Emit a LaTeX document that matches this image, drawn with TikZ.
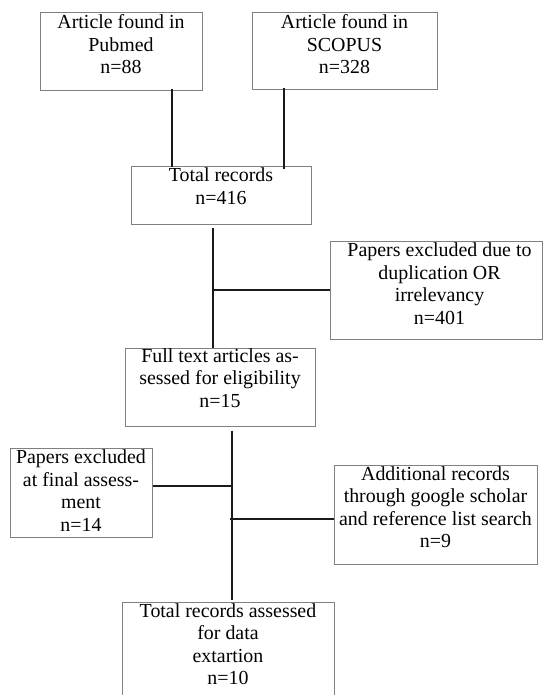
\documentclass[tikz,border=0pt]{standalone}
\usepackage{fontspec}
\setmainfont{Liberation Serif}
\usetikzlibrary{calc}
\definecolor{boxgray}{HTML}{808080}
\definecolor{linecol}{HTML}{1A1A1A}
\begin{document}
\begin{tikzpicture}[x=1pt,y=-1pt,
  box/.style={draw=boxgray, line width=1pt, inner sep=0pt},
  txt/.style={align=center, inner sep=0pt, anchor=north, font=\fontsize{19.9}{22.5}\selectfont},
  conn/.style={draw=linecol, line width=1.8pt}]
\useasboundingbox (0,0) rectangle (544,695);
\fill[white] (0,0) rectangle (544,695);
\clip (0,0) rectangle (544,695);
% boxes
\node[box, minimum width=162, minimum height=78] (b1) at (121,52) {};
\node[box, minimum width=185, minimum height=77] (b2) at (344.5,51.5) {};
\node[box, minimum width=180, minimum height=57] (b3) at (221,195.5) {};
\node[box, minimum width=212, minimum height=98] (b4) at (436.5,290) {};
\node[box, minimum width=190, minimum height=78] (b5) at (220,387) {};
\node[box, minimum width=142, minimum height=89] (b6) at (81,492.5) {};
\node[box, minimum width=203, minimum height=99] (b7) at (435.5,514.5) {};
\node[box, minimum width=212, minimum height=118] (b8) at (228,661) {};
% texts
\node[txt] (t1) at ($(b1.north)+(0,2)$) {\rule{0pt}{13.5pt}Article found in\\Pubmed\\n=88};
\node[txt] (t2) at ($(b2.north)+(0,2)$) {\rule{0pt}{13.5pt}Article found in\\SCOPUS\\n=328};
\node[txt] (t3) at ($(b3.north)+(0,1)$) {\rule{0pt}{13.5pt}Total records\\n=416};
\node[txt] (t4) at ($(b4.north)+(3,2)$) {\rule{0pt}{13.5pt}Papers excluded due to\\duplication OR\\irrelevancy\\n=401};
\node[txt] (t5) at ($(b5.north)+(0,0.5)$) {\rule{0pt}{13.5pt}Full text articles as-\\sessed for eligibility\\n=15};
\node[txt] (t6) at ($(b6.north)+(0,2)$) {\rule{0pt}{13.5pt}Papers excluded\\at final assess-\\ment\\n=14};
\node[txt] (t7) at ($(b7.north)+(0,1.5)$) {\rule{0pt}{13.5pt}Additional records\\through google scholar\\and reference list search\\n=9};
\node[txt] (t8) at ($(b8.north)+(0,1.5)$) {\rule{0pt}{13.5pt}Total records assessed\\for data\\extartion\\n=10};
% connectors
\coordinate (a1) at ($(b1.south)+(51,-2.5)$);
\coordinate (a2) at ($(b3.north)+(0,1)$);
\draw[conn] (a1) -- (a1 |- a2);
\coordinate (c1) at ($(b2.south)+(-60.5,-2)$);
\coordinate (c2) at ($(b3.north)+(0,2)$);
\draw[conn] (c1) -- (c1 |- c2);
\coordinate (k1) at ($(b3.south)+(-8,3.5)$);
\draw[conn] (k1) -- (k1 |- b5.north);
\draw[conn] (k1 |- b4.west) -- (b4.west);
\coordinate (k2) at ($(b5.south)+(12,4)$);
\coordinate (k3) at ($(b8.north)+(0,-2)$);
\draw[conn] (k2) -- (k2 |- k3);
\coordinate (e6) at ($(b6.east)+(0,-6.5)$);
\draw[conn] (e6) -- (e6 -| k2);
\coordinate (w7) at ($(b7.west)+(0,4.5)$);
\coordinate (k4) at ($(k2)+(-2,0)$);
\draw[conn] (w7 -| k4) -- (w7);
\end{tikzpicture}
\end{document}
